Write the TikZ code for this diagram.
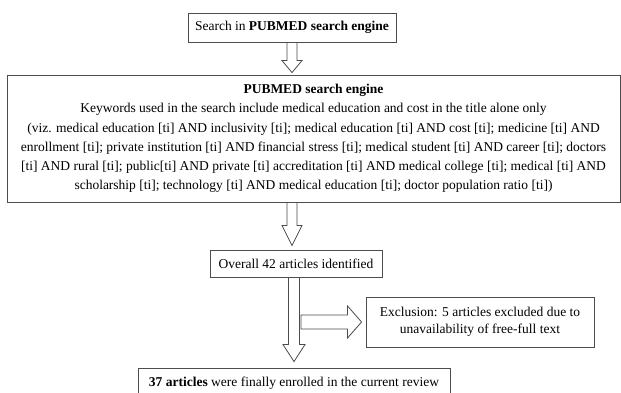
\documentclass[tikz,border=0pt]{standalone}
\usepackage{fontspec}
\setmainfont{Liberation Serif}
\usepackage{tikz}
\usetikzlibrary{calc}

\tikzset{
  stagebox/.style={draw=black!70, line width=0.9pt, fill=white, align=center,
    inner sep=2pt, font=\fontsize{13.5}{17}\selectfont},
  hollow/.style={draw=black!70, line width=0.8pt, fill=white, line join=miter},
}

% hollow block arrow: from, to, shaft half width, head half width, head length
\newcommand{\blockarrow}[5]{%
  \coordinate (ba-s) at (#1);
  \coordinate (ba-t) at (#2);
  \coordinate (ba-h) at ($(ba-t)!#5!(ba-s)$);
  \draw[hollow] ($(ba-s)!#3!90:(ba-t)$) -- ($(ba-h)!#3!90:(ba-t)$)
    -- ($(ba-h)!#4!90:(ba-t)$) -- (ba-t) -- ($(ba-h)!#4!-90:(ba-t)$)
    -- ($(ba-h)!#3!-90:(ba-t)$) -- ($(ba-s)!#3!-90:(ba-t)$) -- cycle;
}

\begin{document}
\begin{tikzpicture}[x=1pt,y=-1pt]
  \useasboundingbox (0,0) rectangle (621,392);

  % boxes
  \node[stagebox, minimum width=208pt, minimum height=29pt] (search) at (292,27.5)
    {Search in \textbf{PUBMED search engine}};
  \node[stagebox, minimum width=613pt, minimum height=127pt,
        font=\fontsize{13.5}{19.2}\selectfont] (engine) at (313.5,138.5)
    {\textbf{PUBMED search engine}\\
     Keywords used in the search include medical education and cost in the title alone only\\
     (viz. medical education [ti] AND inclusivity [ti]; medical education [ti] AND cost [ti]; medicine [ti] AND\\
     enrollment [ti]; private institution [ti] AND financial stress [ti]; medical student [ti] AND career [ti]; doctors\\{}%
     [ti] AND rural [ti]; public[ti] AND private [ti] accreditation [ti] AND medical college [ti]; medical [ti] AND\\
     scholarship [ti]; technology [ti] AND medical education [ti]; doctor population ratio [ti])};
  \node[stagebox, minimum width=172pt, minimum height=27pt] (overall) at (296,263.5)
    {Overall 42 articles identified};
  \node[stagebox, minimum width=228pt, minimum height=50pt] (exclusion) at (480,322)
    {Exclusion: 5 articles excluded due to\\ unavailability of free-full text};
  \node[stagebox, minimum width=312pt, minimum height=30pt] (enrolled) at (294,383)
    {\textbf{37 articles} were finally enrolled in the current review};

  % arrow ends
  \coordinate (a2s) at (engine.south -| search.south);
  \coordinate (a2t) at ($(a2s |- overall.north)+(0,-4)$);
  \coordinate (a3s) at (overall.south -| enrolled.north);
  \coordinate (a3t) at ($(enrolled.north)+(0,-6)$);
  \coordinate (a4s) at ($(a3s |- exclusion.west)+(7,0)$);
  \coordinate (a4t) at ($(exclusion.west)+(-4,0)$);
  \coordinate (a1t) at ($(engine.north -| search.south)+(0,-2)$);

  % arrows
  \blockarrow{search.south}{a1t}{5pt}{10pt}{12pt}
  \blockarrow{a2s}{a2t}{5pt}{10pt}{20pt}
  \blockarrow{a3s}{a3t}{5.5pt}{11pt}{17pt}
  \blockarrow{a4s}{a4t}{7pt}{16pt}{14pt}
\end{tikzpicture}
\end{document}
